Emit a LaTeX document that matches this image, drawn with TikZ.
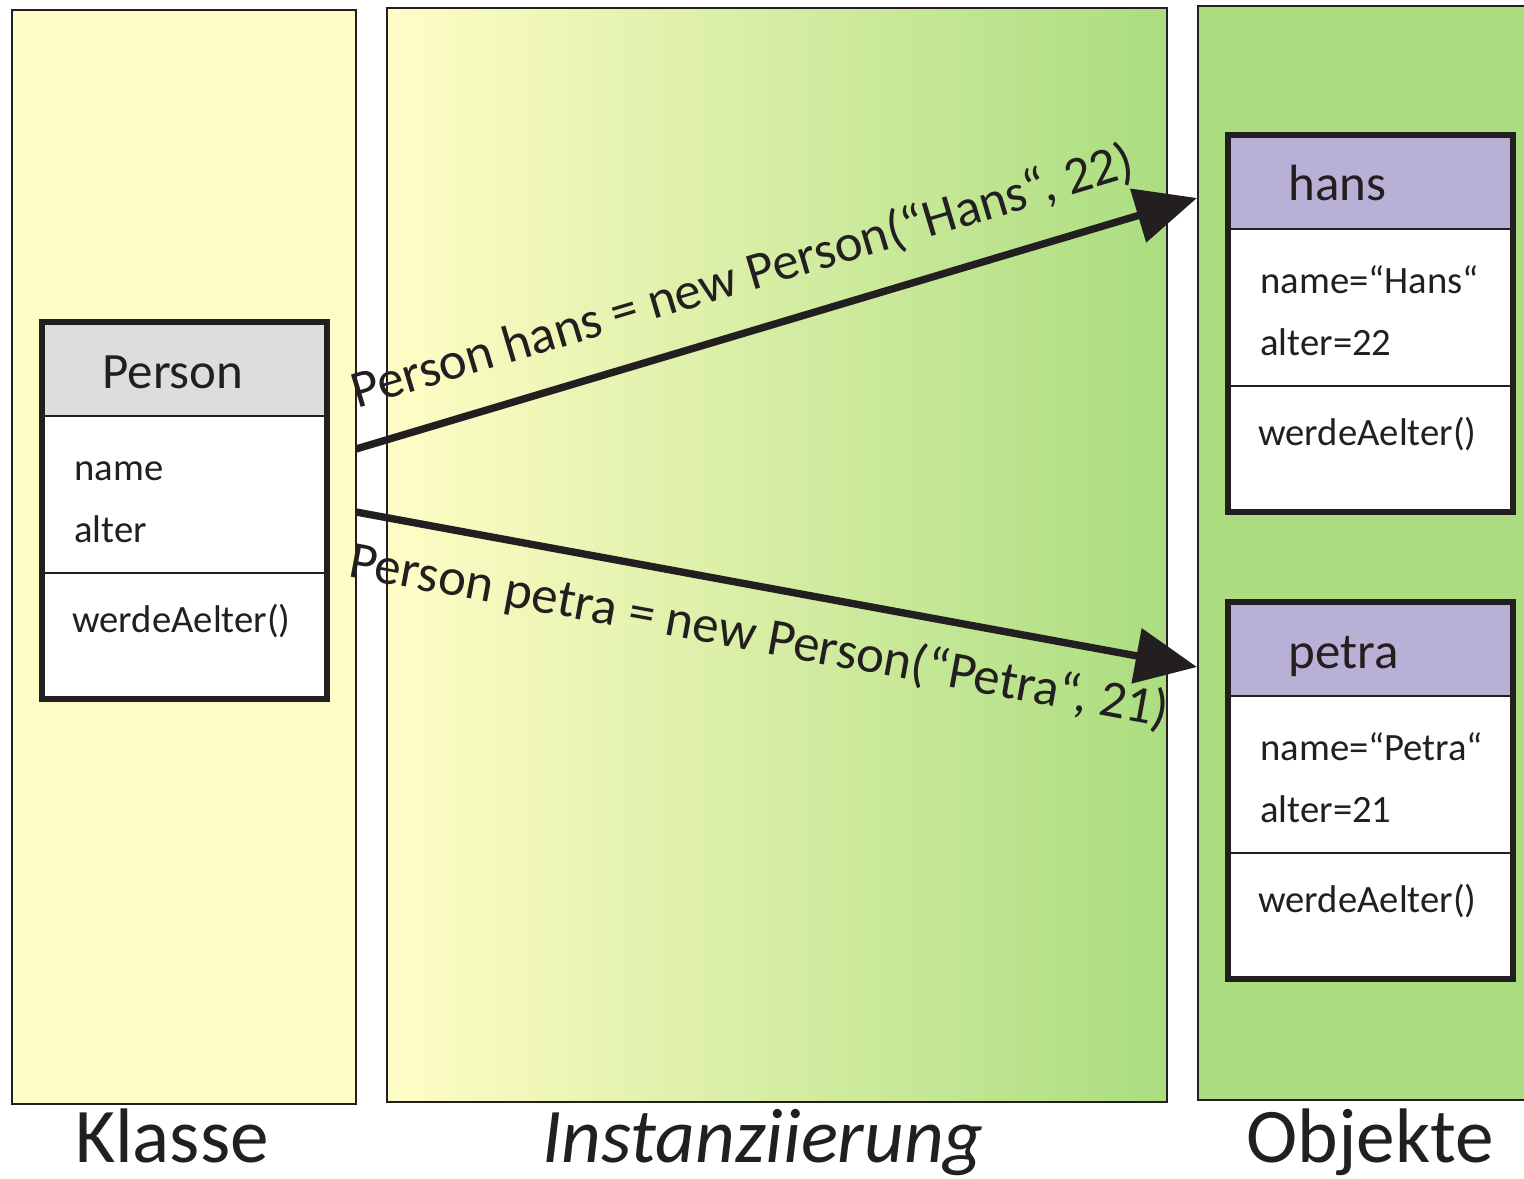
\documentclass[tikz,border=0pt]{standalone}
\usepackage{fontspec}
\setmainfont{Carlito}
\usetikzlibrary{arrows.meta,positioning}
\definecolor{klasseYellow}{HTML}{FFFDC6}
\definecolor{objektGreen}{HTML}{ABDD80}
\definecolor{headGrey}{HTML}{DDDDDD}
\definecolor{headLila}{HTML}{B9B0D6}
\definecolor{inkBlack}{HTML}{231F20}
\tikzset{
    panel/.style={draw=inkBlack,line width=1.1pt},
    boxframe/.style={draw=inkBlack,line width=3.2pt},
    sepline/.style={draw=inkBlack,line width=1.1pt},
    boxtitle/.style={anchor=base west,inner sep=0pt,text=inkBlack,font=\fontsize{29}{34}\selectfont},
    member/.style={anchor=base west,inner sep=0pt,text=inkBlack,font=\fontsize{22}{26}\selectfont},
    pfeil/.style={draw=inkBlack,line width=4.2pt,-{Triangle[length=35pt,width=31pt]}},
    calltext/.style={sloped,anchor=base,inner sep=0pt,text=inkBlack,font=\fontsize{30}{35}\selectfont},
    caption/.style={anchor=base,inner sep=0pt,text=inkBlack,font=\fontsize{44}{52}\selectfont}
}
\newcommand{\objBox}[7]{
    \fill[#4] (#1,#2) rectangle ++(285,94);
    \fill[white] (#1,#2+94) rectangle ++(285,283);
    \draw[sepline] (#1,#2+94) -- ++(285,0);
    \draw[sepline] (#1,#2+251) -- ++(285,0);
    \draw[boxframe] (#1,#2) rectangle ++(285,377);
    \node[boxtitle] (#3-title) at (#1+60,#2+66) {#5};
    \node[member] (#3-attrA) at (#1+32,#2+158) {#6};
    \node[member] (#3-attrB) at (#1+32,#2+220) {#7};
    \node[member] (#3-method) at (#1+30,#2+310) {werdeAelter()};
}

\begin{document}
\begin{tikzpicture}[x=0.02cm,y=-0.02cm]
      \useasboundingbox (0,0) rectangle (1524,1179);

      % Spalten
      \fill[klasseYellow] (12,10) rectangle (356,1104);
      \draw[panel] (12,10) rectangle (356,1104);
      \shade[left color=klasseYellow,right color=objektGreen] (387,8) rectangle (1167,1102);
      \draw[panel] (387,8) rectangle (1167,1102);
      \fill[objektGreen] (1198,6) rectangle (1524,1100);
      \draw[panel] (1530,6) -- (1198,6) -- (1198,1100) -- (1530,1100);

      % Klasse und Objekte
      \objBox{42}{322}{person}{headGrey}{Person}{name}{alter}
      \objBox{1228}{135}{hans}{headLila}{hans}{name=“Hans“}{alter=22}
      \objBox{1228}{602}{petra}{headLila}{petra}{name=“Petra“}{alter=21}

      % Instanziierung
      \coordinate (hansStart) at (356,449);
      \coordinate (hansEnd) at (1197,198);
      \coordinate (petraStart) at (356,512);
      \coordinate (petraEnd) at (1197,667);
      \draw[pfeil] (hansStart) -- node[calltext,pos=0.478,above=22pt,anchor=base] (hansCall) {Person hans = new Person(“Hans“, 22)} (hansEnd);
      \draw[pfeil] (petraStart) -- node[calltext,pos=0.49,below=37pt,anchor=base] (petraCall) {Person petra = new Person(“Petra“, 21)} (petraEnd);

      % Beschriftung
      \node[caption] (klasse) at (172,1162) {Klasse};
      \node[caption] (instanz) at (763,1162) {\itshape Instanziierung};
      \node[caption] (objekte) at (1370,1162) {Objekte};
\end{tikzpicture}
\end{document}
